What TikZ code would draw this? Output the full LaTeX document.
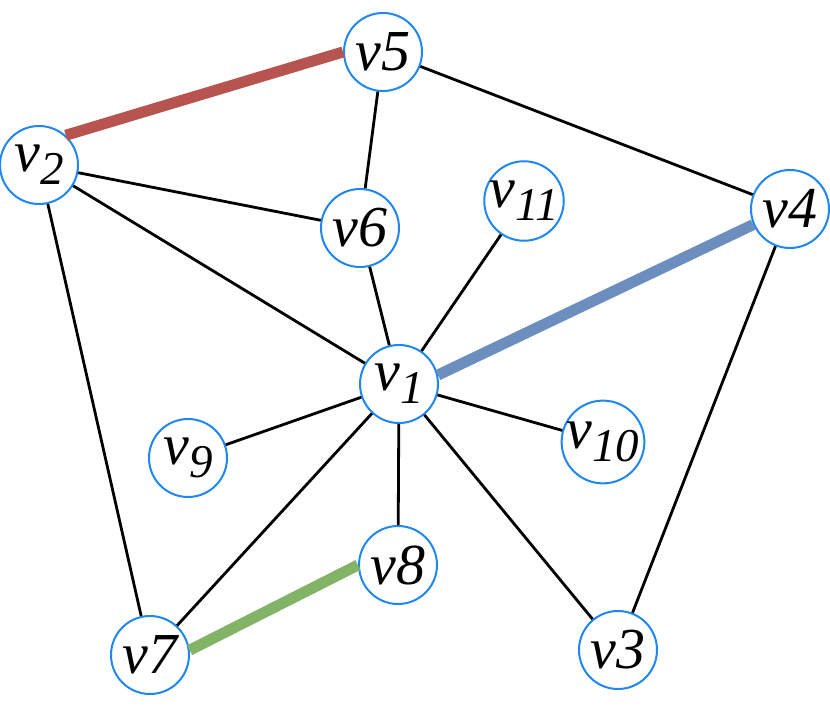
\documentclass[tikz,border=0pt]{standalone}
\usepackage{fontspec}
\setmainfont{Liberation Serif}
\definecolor{circblue}{RGB}{30,136,240}
\definecolor{edgered}{HTML}{B85450}
\definecolor{edgeblue}{HTML}{6C8EBF}
\definecolor{edgegreen}{HTML}{82B366}
\newcommand{\vlab}[1]{v#1}
\newcommand{\vsb}[1]{v\raisebox{-0.22em}{\fontsize{47}{47}\selectfont #1}}
\begin{document}
\begin{tikzpicture}[x=1pt,y=-1pt,
  vert/.style={circle,draw=circblue,line width=2pt,fill=white,minimum size=78pt,inner sep=0pt,
    font=\fontsize{58}{58}\selectfont\itshape},
  edge/.style={line width=2.8pt,black},
  thick edge/.style={line width=11pt}]
\useasboundingbox (0,0) rectangle (830,709);
\node[vert] (v5) at (383,52) {\vlab{5}};
\node[vert] (v2) at (39,165) {\vsb{2}};
\node[vert] (v6) at (360,228) {\vlab{6}};
\node[vert] (v11) at (524,201) {\vsb{11}};
\node[vert] (v4) at (790,209) {\vlab{4}};
\node[vert] (v1) at (399,384) {\vsb{1}};
\node[vert] (v9) at (188,458) {\vsb{9}};
\node[vert] (v10) at (603,442) {\vsb{10}};
\node[vert] (v8) at (398,565) {\vlab{8}};
\node[vert] (v7) at (150,655) {\vlab{7}};
\node[vert] (v3) at (618,650) {\vlab{3}};
\draw[edge] (v5) -- (v6);
\draw[edge] (v5) -- (v4);
\draw[edge] (v2) -- (v6);
\draw[edge] (v2) -- (v1);
\draw[edge] (v2) -- (v7);
\draw[edge] (v6) -- (v1);
\draw[edge] (v11) -- (v1);
\draw[edge] (v4) -- (v3);
\draw[edge] (v1) -- (v9);
\draw[edge] (v1) -- (v10);
\draw[edge] (v1) -- (v8);
\draw[edge] (v1) -- (v7);
\draw[edge] (v1) -- (v3);
\draw[thick edge,edgered] (v2.48) -- (v5.west);
\draw[thick edge,edgeblue] (v1.13) -- (v4.203);
\draw[thick edge,edgegreen] (v7.7) -- (v8.west);
\end{tikzpicture}
\end{document}
